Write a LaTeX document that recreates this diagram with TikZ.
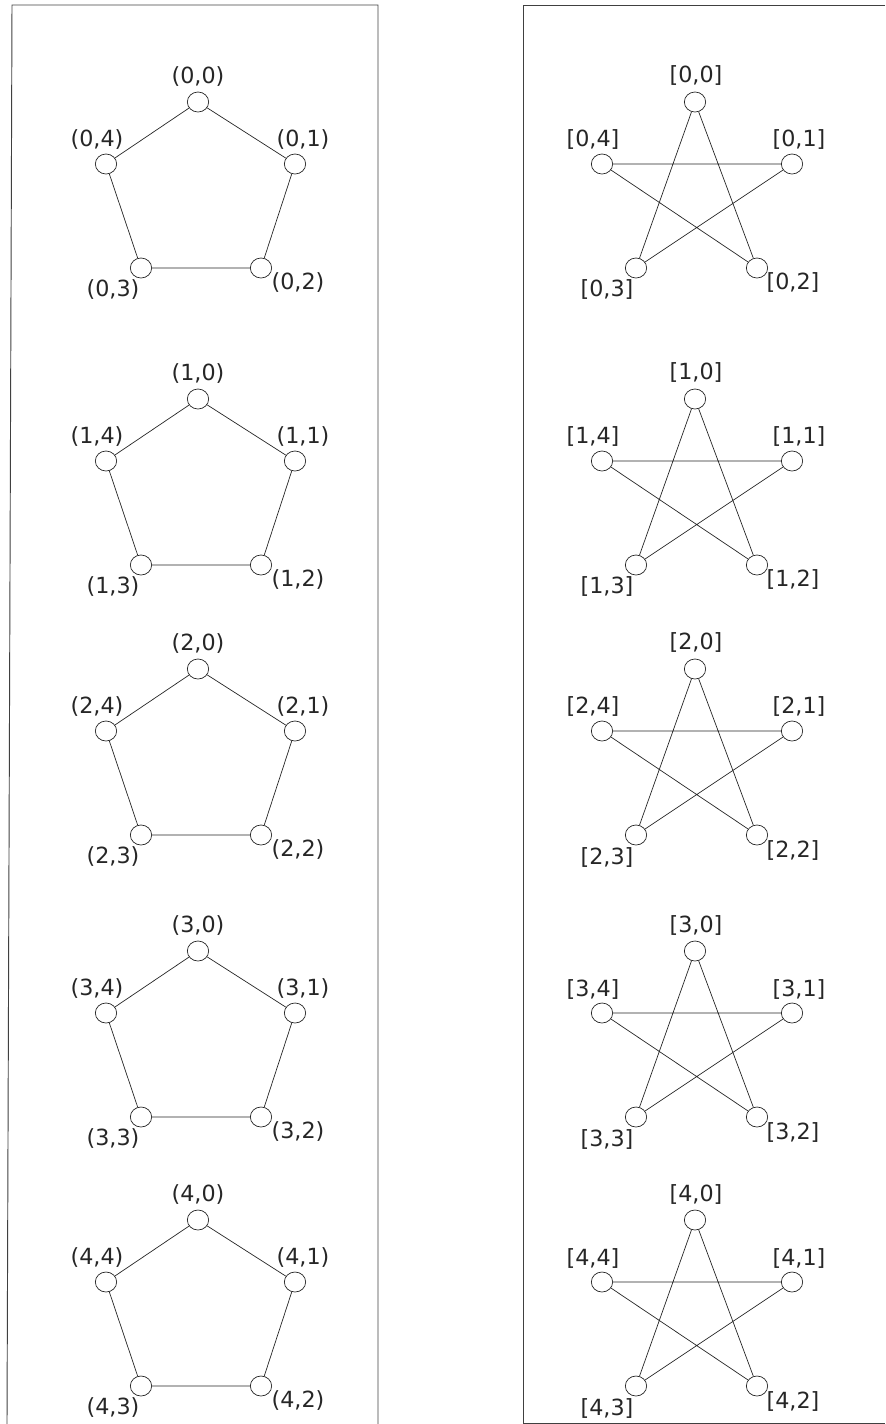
\documentclass[tikz,border=0pt]{standalone}
\usepackage{fontspec}
\setmainfont{DejaVu Sans}
\usetikzlibrary{shapes.geometric}

\begin{document}
\begin{tikzpicture}[x=0.03cm, y=-0.03cm,
  vtx/.style={draw=black!85, ellipse, minimum width=0.64cm, minimum height=0.6cm, inner sep=0pt, line width=0.6pt},
  lbl/.style={font=\fontsize{19}{22}\selectfont, text=black!85, inner sep=0pt},
  link/.style={draw=black!85, line width=0.6pt},
  frame/.style={draw=black!75, line width=0.8pt}
]
\useasboundingbox (0,0) rectangle (885,1424);

% Frames
\draw[frame] (7,1424) -- (12,5) -- (378,5) -- (378,1424);
\draw[frame] (885,5) -- (523,5) -- (523,1423) -- (885,1423);

\foreach \g/\y in {0/102, 1/399, 2/669, 3/951, 4/1220} {
  % Pentagon (left)
  \node[vtx] (p\g-0) at (198,\y) {};
  \node[vtx] (p\g-1) at (295,\y+62) {};
  \node[vtx] (p\g-2) at (261,\y+166) {};
  \node[vtx] (p\g-3) at (141,\y+166) {};
  \node[vtx] (p\g-4) at (106,\y+62) {};
  \node[lbl] (pl\g-0) at (198,\y-25) {(\g,0)};
  \node[lbl] (pl\g-1) at (303,\y+38) {(\g,1)};
  \node[lbl] (pl\g-2) at (298,\y+181) {(\g,2)};
  \node[lbl] (pl\g-3) at (113,\y+188) {(\g,3)};
  \node[lbl] (pl\g-4) at (97,\y+38) {(\g,4)};
  \draw[link] (p\g-0) -- (p\g-1) -- (p\g-2) -- (p\g-3) -- (p\g-4) -- (p\g-0);

  % Star (right)
  \node[vtx] (s\g-0) at (695,\y) {};
  \node[vtx] (s\g-1) at (792,\y+62) {};
  \node[vtx] (s\g-2) at (757,\y+166) {};
  \node[vtx] (s\g-3) at (636,\y+166) {};
  \node[vtx] (s\g-4) at (602,\y+62) {};
  \node[lbl] (sl\g-0) at (696,\y-26) {[\g,0]};
  \node[lbl] (sl\g-1) at (799,\y+38) {[\g,1]};
  \node[lbl] (sl\g-2) at (793,\y+181) {[\g,2]};
  \node[lbl] (sl\g-3) at (607,\y+188) {[\g,3]};
  \node[lbl] (sl\g-4) at (593,\y+38) {[\g,4]};
  \draw[link] (s\g-0) -- (s\g-2) -- (s\g-4) -- (s\g-1) -- (s\g-3) -- (s\g-0);
}

\end{tikzpicture}
\end{document}
